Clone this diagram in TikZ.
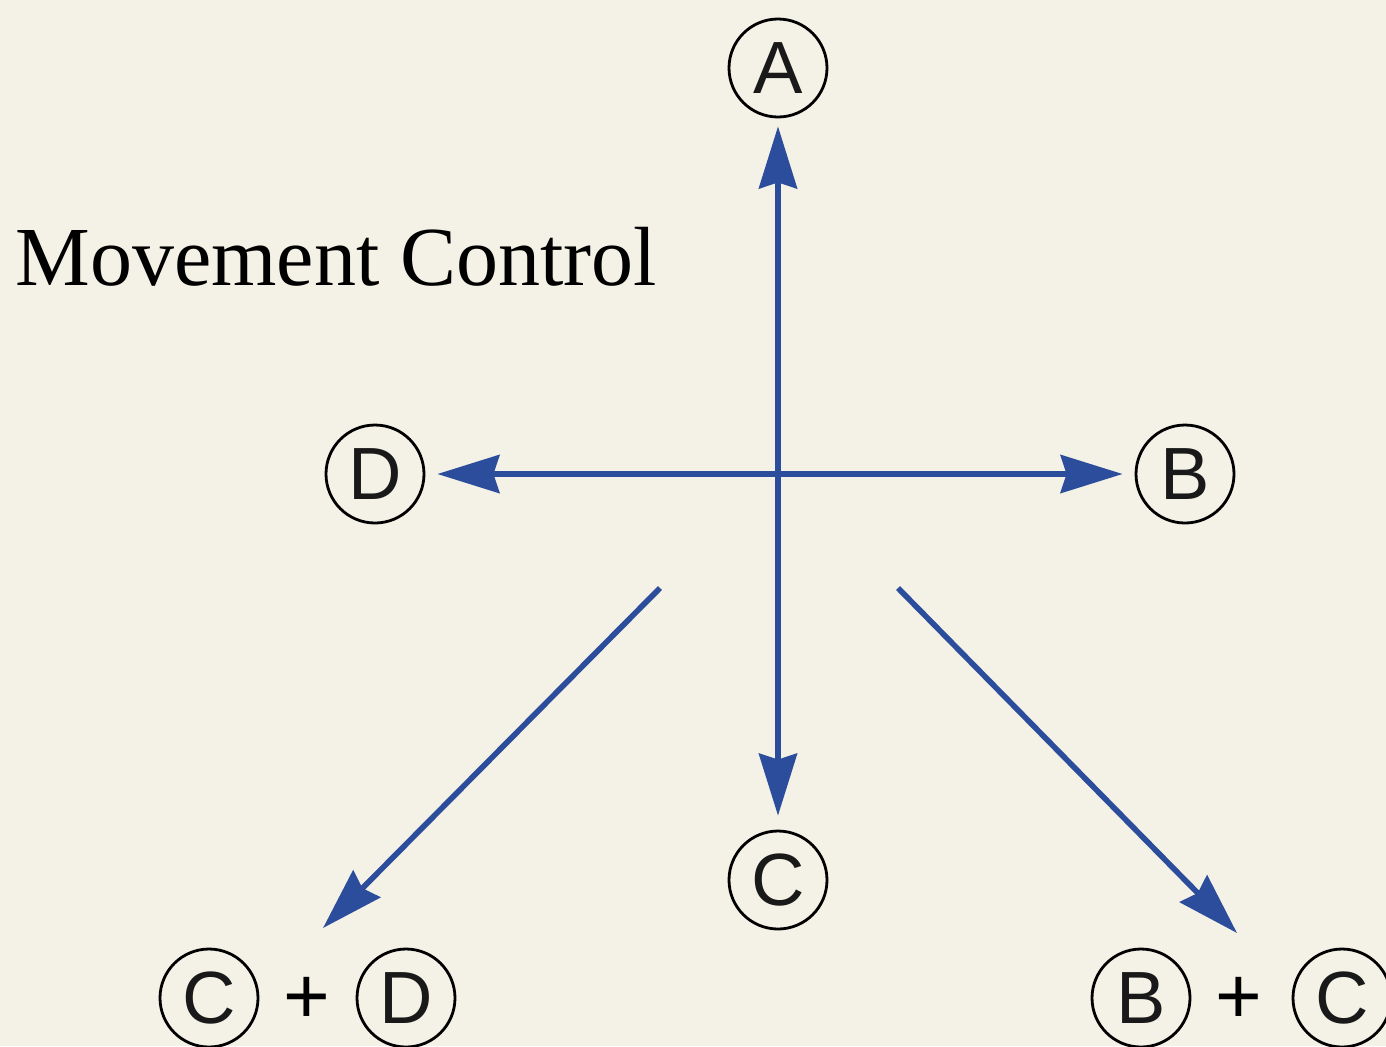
\documentclass[tikz,border=0pt]{standalone}
\usepackage{fontspec}
\setmainfont{Liberation Serif}
\newfontfamily\lettfont{Liberation Sans}
\usetikzlibrary{arrows.meta}
\definecolor{paper}{HTML}{F4F2E6}
\definecolor{arrowblue}{HTML}{2C4C9C}
\begin{document}
\begin{tikzpicture}[x=0.5pt,y=-0.5pt,
  letter/.style={circle,draw=black,line width=1.4pt,minimum size=49pt,inner sep=0pt,
     font=\lettfont\fontsize{37}{37}\selectfont,text=black!90},
  plussign/.style={inner sep=0pt,font=\lettfont\fontsize{40}{40}\selectfont},
  move/.style={draw=arrowblue,line width=2.8pt,
     -{Stealth[length=31pt,width=19pt,inset=3pt]}},
  bimove/.style={draw=arrowblue,line width=2.8pt,
     {Stealth[length=31pt,width=19pt,inset=3pt]}-{Stealth[length=31pt,width=19pt,inset=3pt]}}]
\fill[paper] (0,0) rectangle (1386,1046);
\clip (0,0) rectangle (1386,1046);
\node[anchor=base west,inner sep=0pt,font=\fontsize{42}{42}\selectfont] (title) at (15,285) {Movement Control};
\node[letter] (A) at (778,68) {A};
\node[letter] (B) at (1185,474) {B};
\node[letter] (C) at (778,880) {C};
\node[letter] (D) at (375,474) {D};
\node[letter] (C1) at (209,998) {C};
\node[plussign] (p1) at (307,1000) {+};
\node[letter] (D1) at (406,998) {D};
\node[letter] (B2) at (1141,998) {B};
\node[plussign] (p2) at (1239,1000) {+};
\node[letter] (C2) at (1342,998) {C};
\coordinate (s1) at (660,588);
\coordinate (e1) at (323,928);
\coordinate (s2) at (898,588);
\coordinate (e2) at (1237,933);
\draw[bimove,shorten <=4pt,shorten >=7pt] (A) -- (C);
\draw[bimove,shorten <=6pt,shorten >=6pt] (D) -- (B);
\draw[move] (s1) -- (e1);
\draw[move] (s2) -- (e2);
\end{tikzpicture}
\end{document}
